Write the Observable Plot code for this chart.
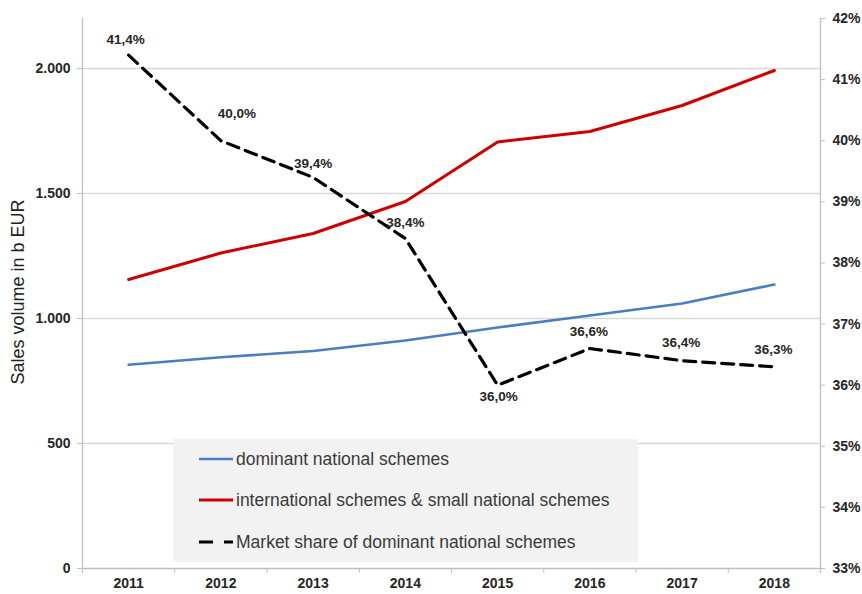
<!DOCTYPE html>
<html>
<head>
<meta charset="utf-8">
<script src="https://cdn.jsdelivr.net/npm/d3@7"></script>
<script src="https://cdn.jsdelivr.net/npm/@observablehq/plot@0.6"></script>
<style>
  body { margin: 0; background: #fff; font-family: Arial, "Liberation Sans", sans-serif; }
  #wrap { position: relative; width: 862px; height: 594px; overflow: hidden; }
  #ytitle { position: absolute; left: 18px; top: 292px; transform: translate(-50%, -50%) rotate(-90deg);
    white-space: nowrap; font-size: 18px; color: #222; }
  #legend { position: absolute; left: 173px; top: 439px; width: 465px; height: 123px; background: #f2f2f2; }
  .item { position: absolute; left: 26px; height: 20px; display: flex; align-items: center;
    font-size: 17.5px; color: #3a3a3a; white-space: nowrap; }
  .item svg { margin-right: 3px; }
</style>
</head>
<body>
<div id="wrap">
  <div id="chart"></div>
  <div id="ytitle">Sales volume in b EUR</div>
  <div id="legend"></div>
</div>
<script>
// ---- data ----
const years = [2011, 2012, 2013, 2014, 2015, 2016, 2017, 2018];
const dominant = [815, 845, 870, 912, 964, 1012, 1060, 1136];
const international = [1156, 1262, 1340, 1468, 1706, 1748, 1852, 1992];
const share = [41.4, 40.0, 39.4, 38.4, 36.0, 36.6, 36.4, 36.3];
const leftTicks = [0, 500, 1000, 1500, 2000];
const rightTicks = [33, 34, 35, 36, 37, 38, 39, 40, 41, 42];
const seriesNames = ["dominant national schemes", "international schemes & small national schemes", "Market share of dominant national schemes"];
// label offsets (px) for the share labels
const labelDx = [-3, 16, 0, 0, 1, -1, -1, -1];
const labelDy = [-15, -27, -14, -16, 12, -17, -18, -17];

// ---- helpers ----
const leftMax = 2200, rightMin = 33, rightMax = 42;
const pctToY = p => (p - rightMin) / (rightMax - rightMin) * leftMax;
const de = d3.formatLocale({decimal: ",", thousands: ".", grouping: [3], currency: ["", "€"]});
const fmtLeft = de.format(",d");
const fmtPct = v => v.toFixed(1).replace(".", ",") + "%";

const rows = years.map((y, i) => ({
  year: y, dom: dominant[i], intl: international[i], share: share[i],
  label: fmtPct(share[i]), dx: labelDx[i], dy: labelDy[i]
}));

const blue = "#4a7ebf", red = "#cc0000", grid = "#d9d9d9", axisCol = "#bfbfbf", txt = "#262626";
const bounds = d3.range(years.length + 1).map(i => years[0] - 0.5 + i);

const chart = Plot.plot({
  width: 862, height: 594,
  marginLeft: 82, marginRight: 42, marginTop: 18, marginBottom: 26,
  style: {fontFamily: "Arial, 'Liberation Sans', sans-serif", background: "#fff"},
  x: {type: "linear", domain: [years[0] - 0.5, years[years.length - 1] + 0.5]},
  y: {domain: [0, leftMax]},
  marks: [
    Plot.ruleY(leftTicks.slice(1), {stroke: grid, strokeWidth: 1.3}),
    Plot.ruleX([bounds[0], bounds[bounds.length - 1]], {stroke: axisCol, strokeWidth: 1.3}),
    Plot.ruleY([0], {stroke: axisCol, strokeWidth: 1.3}),
    Plot.line(rows, {x: "year", y: "intl", stroke: red, strokeWidth: 3}),
    Plot.line(rows, {x: "year", y: "dom", stroke: blue, strokeWidth: 2.6}),
    Plot.line(rows, {x: "year", y: d => pctToY(d.share), stroke: "#000", strokeWidth: 3.2, strokeDasharray: "12,7"}),
    ...rows.map(r => Plot.text([r], {x: "year", y: d => pctToY(d.share), text: "label",
      dx: r.dx, dy: r.dy, fontSize: 13.5, fontWeight: "bold", fill: txt})),
    Plot.axisY(leftTicks, {anchor: "left", tickSize: 5, tickPadding: 7, stroke: axisCol,
      tickFormat: fmtLeft, fontSize: 14, fontWeight: "bold", fill: txt, label: null}),
    Plot.axisY(rightTicks.map(pctToY), {anchor: "right", tickSize: 4, tickPadding: 8, stroke: axisCol,
      tickFormat: v => Math.round(v / leftMax * (rightMax - rightMin) + rightMin) + "%",
      fontSize: 14, fontWeight: "bold", fill: txt, label: null}),
    Plot.axisX(bounds, {anchor: "bottom", tickSize: 5, stroke: axisCol, tickFormat: () => "", label: null}),
    Plot.axisX(years, {anchor: "bottom", tickSize: 0, tickPadding: 10, tickFormat: d => String(d),
      fontSize: 14, fontWeight: "bold", fill: txt, label: null})
  ]
});
document.getElementById("chart").appendChild(chart);

// ---- legend ----
const legendStyles = [
  {color: blue, width: 2.6, dash: null},
  {color: red, width: 3, dash: null},
  {color: "#000", width: 3.2, dash: "14,11"}
];
const legend = document.getElementById("legend");
const tops = [10, 51, 93];
seriesNames.forEach((name, i) => {
  const s = legendStyles[i];
  const div = document.createElement("div");
  div.className = "item";
  div.style.top = tops[i] + "px";
  div.innerHTML = `<svg width="34" height="8"><line x1="0" y1="4" x2="34" y2="4" stroke="${s.color}" stroke-width="${s.width}" ${s.dash ? `stroke-dasharray="${s.dash}"` : ""}/></svg><span>${name}</span>`;
  legend.appendChild(div);
});
</script>
</body>
</html>
